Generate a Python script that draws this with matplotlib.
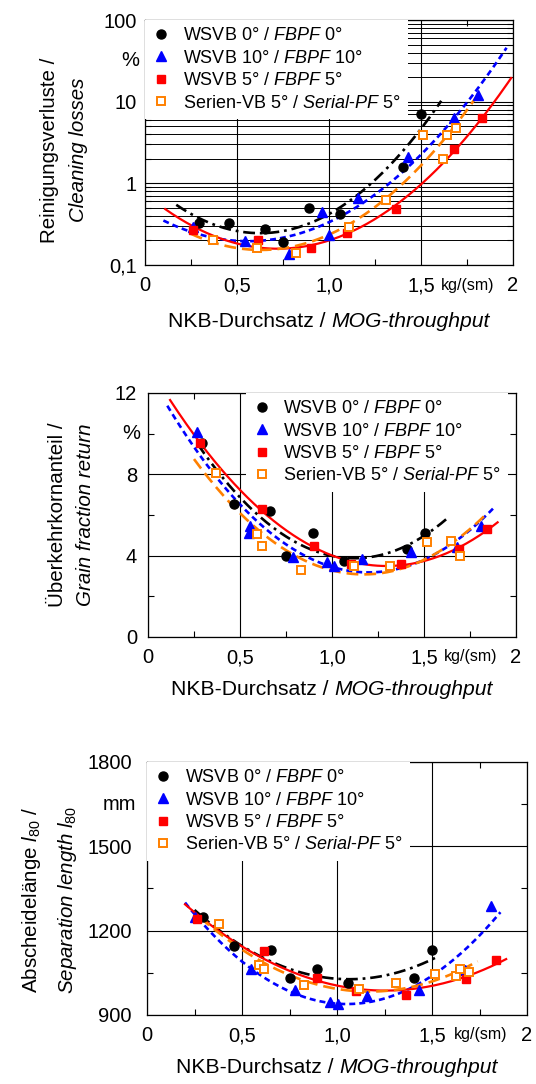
import matplotlib
matplotlib.use("Agg")
import matplotlib.pyplot as plt
import numpy as np
from matplotlib.offsetbox import AnchoredOffsetbox, HPacker, TextArea
from matplotlib.ticker import FixedLocator, NullFormatter

plt.rcParams["font.family"] = ["Liberation Sans", "DejaVu Sans"]
plt.rcParams["mathtext.fontset"] = "custom"
plt.rcParams["mathtext.rm"] = "Liberation Sans"
plt.rcParams["mathtext.it"] = "Liberation Sans:italic"
plt.rcParams["lines.scale_dashes"] = False

SERIES = ["w0", "w10", "w5", "s5"]
LEGEND_LABELS = [
    "WSVB 0° / $\\mathit{FBPF\\ 0°}$",
    "WSVB 10° / $\\mathit{FBPF\\ 10°}$",
    "WSVB 5° / $\\mathit{FBPF\\ 5°}$",
    "Serien-VB 5° / $\\mathit{Serial}$-$\\mathit{PF\\ 5°}$",
]

# --- cleaning losses (%) ---
loss_x_w0 = [0.295, 0.458, 0.654, 0.748, 0.893, 1.06, 1.404, 1.50]
loss_y_w0 = [0.324, 0.324, 0.274, 0.194, 0.495, 0.419, 1.57, 7.0]
loss_x_w10 = [0.263, 0.545, 0.781, 0.964, 1.00, 1.16, 1.428, 1.68, 1.81]
loss_y_w10 = [0.29, 0.197, 0.137, 0.44, 0.233, 0.66, 2.12, 6.37, 12.1]
loss_x_w5 = [0.263, 0.612, 0.90, 1.10, 1.364, 1.68, 1.83]
loss_y_w5 = [0.27, 0.203, 0.163, 0.245, 0.48, 2.61, 6.37]
loss_x_s5 = [0.368, 0.607, 0.82, 1.11, 1.31, 1.513, 1.618, 1.64, 1.689]
loss_y_s5 = [0.203, 0.16, 0.139, 0.295, 0.63, 3.9, 2.0, 3.9, 4.72]
loss_span = {"w0": (0.17, 1.61), "w10": (0.10, 1.965), "w5": (0.11, 1.99), "s5": (0.25, 1.82)}

# --- grain fraction return (%) ---
ret_x_w0 = [0.293, 0.465, 0.661, 0.752, 0.897, 1.064, 1.406, 1.506]
ret_y_w0 = [9.53, 6.53, 6.2, 3.98, 5.1, 3.75, 4.31, 5.1]
ret_x_w10 = [0.265, 0.556, 0.547, 0.788, 0.974, 1.01, 1.164, 1.43, 1.68, 1.81]
ret_y_w10 = [10.1, 5.46, 5.13, 3.92, 3.71, 3.49, 3.82, 4.2, 4.44, 5.46]
ret_x_w5 = [0.28, 0.62, 0.901, 1.105, 1.373, 1.688, 1.84]
ret_y_w5 = [9.53, 6.28, 4.48, 3.57, 3.57, 4.31, 5.3]
ret_x_s5 = [0.371, 0.592, 0.62, 0.832, 1.119, 1.315, 1.515, 1.646, 1.697]
ret_y_s5 = [8.08, 5.05, 4.48, 3.3, 3.49, 3.49, 4.69, 4.74, 3.98]
ret_span = {"w0": (0.27, 1.62), "w10": (0.105, 1.88), "w5": (0.12, 1.90), "s5": (0.25, 1.83)}

# --- separation length l80 (mm) ---
len_x_w0 = [0.293, 0.457, 0.655, 0.751, 0.897, 1.06, 1.405, 1.501]
len_y_w0 = [1248, 1147, 1132, 1030, 1065, 1014, 1031, 1131]
len_x_w10 = [0.252, 0.546, 0.778, 0.965, 1.005, 1.16, 1.431, 1.676, 1.81]
len_y_w10 = [1248, 1065, 990, 947, 939, 968, 990, 1061, 1289]
len_x_w5 = [0.264, 0.615, 0.897, 1.098, 1.365, 1.68, 1.834]
len_y_w5 = [1241, 1128, 1030, 984, 972, 1028, 1096]
len_x_s5 = [0.378, 0.589, 0.615, 0.825, 1.116, 1.312, 1.513, 1.624, 1.645, 1.694]
len_y_s5 = [1223, 1076, 1063, 1008, 992, 1014, 1046, 1037, 1063, 1053]
len_span = {"w0": (0.25, 1.52), "w10": (0.20, 1.86), "w5": (0.20, 1.89), "s5": (0.28, 1.74)}

LINE_STYLE = {
    "w0": dict(color="black", lw=1.9, dashes=(8.5, 3.5, 2, 3.5)),
    "w10": dict(color="#0000ff", lw=1.9, dashes=(4.3, 2.9)),
    "w5": dict(color="#ff0000", lw=1.6),
    "s5": dict(color="#ff8000", lw=1.9, dashes=(8.5, 4.3)),
}
MARK_STYLE = {
    "w0": dict(marker="o", ms=6.5, mfc="black", mec="black"),
    "w10": dict(marker="^", ms=7, mfc="#0000ff", mec="#0000ff"),
    "w5": dict(marker="s", ms=6, mfc="#ff0000", mec="#ff0000"),
    "s5": dict(marker="s", ms=5.5, mfc="white", mec="#ff8000", mew=1.4),
}


def draw_panel(ax, xs, ys, spans, log=False):
    handles = []
    for key, x, y in zip(SERIES, xs, ys):
        x = np.asarray(x, dtype=float)
        y = np.asarray(y, dtype=float)
        # 2nd order trend line through the measured points
        coef = np.polyfit(x, np.log10(y) if log else y, 2)
        xx = np.linspace(spans[key][0], spans[key][1], 200)
        yy = np.polyval(coef, xx)
        if log:
            yy = 10 ** yy
        ax.plot(xx, yy, zorder=3, **LINE_STYLE[key])
        (h,) = ax.plot(x, y, ls="none", zorder=4, **MARK_STYLE[key])
        handles.append(h)
    return handles


def style_axes(ax, xlab_y, ylab_x, ylab_y, line1, line2, ypad):
    ax.set_xlim(0, 2)
    ax.xaxis.set_major_locator(FixedLocator([0, 0.5, 1.0, 1.5, 2]))
    ax.xaxis.set_minor_locator(FixedLocator([0.25, 0.75, 1.25, 1.75]))
    ax.set_xticklabels(["0", "0,5", "1,0", "1,5", "2"])
    ax.tick_params(which="both", direction="in", top=True, right=True, labelsize=14.5)
    ax.tick_params(which="major", length=0)
    ax.tick_params(axis="x", which="major", pad=8)
    ax.tick_params(axis="y", which="major", pad=ypad)
    ax.tick_params(which="minor", length=4, width=0.8)
    ax.grid(True, which="major", color="black", lw=0.8)
    for sp in ax.spines.values():
        sp.set_linewidth(0.9)
    ax.annotate("kg/(sm)", xy=(1.755, 0), xycoords=("data", "axes fraction"),
                xytext=(0, -9), textcoords="offset points", ha="center", va="top", fontsize=11.5)
    box = HPacker(children=[TextArea("NKB-Durchsatz / ", textprops=dict(size=15.2)),
                            TextArea("MOG-throughput", textprops=dict(size=15.2, style="italic"))],
                  align="baseline", pad=0, sep=0)
    ax.add_artist(AnchoredOffsetbox(loc="center", child=box, pad=0, borderpad=0, frameon=False,
                                    bbox_to_anchor=(0.5, xlab_y), bbox_transform=ax.transAxes))
    ax.text(ylab_x[0], ylab_y, line1, transform=ax.transAxes, rotation=90,
            ha="center", va="center", fontsize=14.8)
    ax.text(ylab_x[1], ylab_y, line2, transform=ax.transAxes, rotation=90,
            ha="center", va="center", fontsize=14.8, style="italic")


def add_legend(ax, handles, anchor):
    leg = ax.legend(handles, LEGEND_LABELS, loc="upper left", bbox_to_anchor=anchor,
                    borderaxespad=0, frameon=True, fancybox=False, edgecolor="none",
                    facecolor="white", framealpha=1, fontsize=13, handlelength=1.0,
                    handletextpad=0.7, labelspacing=0.3, borderpad=0.4)
    leg.set_zorder(5)


fig = plt.figure(figsize=(5.36, 10.84), dpi=100)

# top panel
ax1 = fig.add_axes([0.2705, 0.7555, 0.6866, 0.2260])
h = draw_panel(ax1, [loss_x_w0, loss_x_w10, loss_x_w5, loss_x_s5],
               [loss_y_w0, loss_y_w10, loss_y_w5, loss_y_s5], loss_span, log=True)
ax1.set_yscale("log")
ax1.set_ylim(0.1, 100)
ax1.yaxis.set_major_locator(FixedLocator([0.1, 1, 10, 100]))
ax1.yaxis.set_minor_locator(FixedLocator([m * d for d in (0.1, 1, 10) for m in range(2, 10)]))
ax1.yaxis.set_minor_formatter(NullFormatter())
ax1.set_yticklabels(["0,1", "1", "10", "100"])
style_axes(ax1, -0.231, (-0.26, -0.18), 0.47,
           "Reinigungsverluste /", "Cleaning losses", 6)
ax1.grid(True, which="minor", axis="y", color="black", lw=0.7)
ax1.text(-6 / 368, 31.6, "%", transform=ax1.get_yaxis_transform(), ha="right", va="center", fontsize=14.5)
add_legend(ax1, h, (0.0, 1.0))

# middle panel
ax2 = fig.add_axes([0.2761, 0.4124, 0.6866, 0.2251])
h = draw_panel(ax2, [ret_x_w0, ret_x_w10, ret_x_w5, ret_x_s5],
               [ret_y_w0, ret_y_w10, ret_y_w5, ret_y_s5], ret_span)
ax2.set_ylim(0, 12)
ax2.yaxis.set_major_locator(FixedLocator([0, 4, 8, 12]))
ax2.yaxis.set_minor_locator(FixedLocator([2, 6, 10]))
ax2.set_yticklabels(["0", "4", "8", "12"])
style_axes(ax2, -0.217, (-0.245, -0.17), 0.5,
           "Überkehrkornanteil /", "Grain fraction return", 8)
ax2.text(-8 / 368, 10, "%", transform=ax2.get_yaxis_transform(), ha="right", va="center", fontsize=14.5)
add_legend(ax2, h, (0.265, 1.0))

# bottom panel
ax3 = fig.add_axes([0.2743, 0.0637, 0.709, 0.2334])
h = draw_panel(ax3, [len_x_w0, len_x_w10, len_x_w5, len_x_s5],
               [len_y_w0, len_y_w10, len_y_w5, len_y_s5], len_span)
ax3.set_ylim(900, 1800)
ax3.yaxis.set_major_locator(FixedLocator([900, 1200, 1500, 1800]))
ax3.yaxis.set_minor_locator(FixedLocator([1050, 1350, 1650]))
ax3.set_yticklabels(["900", "1200", "1500", "1800"])
style_axes(ax3, -0.206, (-0.303, -0.21), 0.455,
           "Abscheidelänge $\\mathit{l}_{80}$ /", "Separation length $\\mathit{l}_{80}$", 11)
ax3.text(-11 / 380, 1650, "mm", transform=ax3.get_yaxis_transform(), ha="right", va="center", fontsize=14.5)
add_legend(ax3, h, (0.0, 1.0))

fig.savefig("out.png", dpi=100)
